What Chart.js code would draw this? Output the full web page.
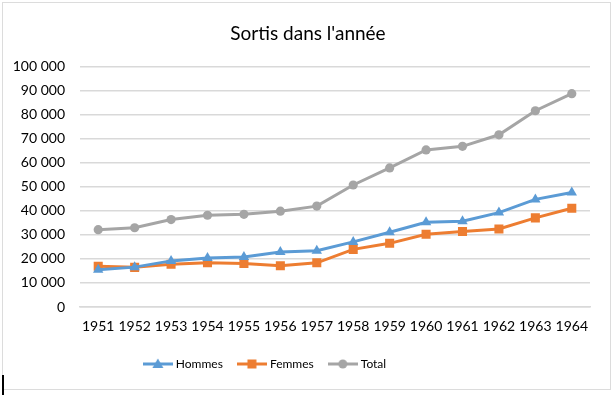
<!DOCTYPE html>
<html>
<head>
<meta charset="utf-8">
<script src="https://cdn.jsdelivr.net/npm/chart.js@4/dist/chart.umd.min.js"></script>
<style>
  html, body { margin: 0; padding: 0; background: #fff; }
  #wrap { position: relative; width: 616px; height: 395px; }
  #frame { position: absolute; left: 2px; top: 2px; width: 609px; height: 388px; border: 1.5px solid #dcdcdc; box-sizing: border-box; }
  #cursor { position: absolute; left: 2px; top: 375px; width: 1.5px; height: 20px; background: #000; }
  canvas { position: absolute; left: 0; top: 0; }
</style>
</head>
<body>
<div id="wrap">
  <div id="frame"></div>
  <canvas id="c" width="616" height="395"></canvas>
  <div id="cursor"></div>
</div>
<script>
const years = ["1951","1952","1953","1954","1955","1956","1957","1958","1959","1960","1961","1962","1963","1964"];
const hommes = [15500, 16600, 19200, 20400, 20800, 22900, 23400, 27100, 31100, 35300, 35700, 39300, 44800, 47700];
const femmes = [17000, 16500, 17800, 18400, 18100, 17200, 18400, 24000, 26500, 30300, 31400, 32500, 37100, 41100];
const total  = [32200, 33000, 36400, 38200, 38600, 39900, 42000, 50800, 57900, 65400, 66900, 71700, 81700, 88800];
const yTicks = [0, 10000, 20000, 30000, 40000, 50000, 60000, 70000, 80000, 90000, 100000];

const FONT = "Lato, 'Open Sans', sans-serif";

function legendIcon(color, shape) {
  const cv = document.createElement('canvas');
  cv.width = 30; cv.height = 12;
  const g = cv.getContext('2d');
  g.strokeStyle = color; g.lineWidth = 3; g.lineCap = 'butt';
  g.beginPath(); g.moveTo(0, 6); g.lineTo(30, 6); g.stroke();
  g.fillStyle = color;
  g.beginPath();
  if (shape === 'triangle') { g.moveTo(15, 0.5); g.lineTo(20.5, 10); g.lineTo(9.5, 10); g.closePath(); }
  else if (shape === 'rect') { g.rect(10.5, 1.5, 9, 9); }
  else { g.arc(15, 6, 4.5, 0, Math.PI * 2); }
  g.fill();
  return cv;
}

const fmt = v => String(v).replace(/\B(?=(\d{3})+(?!\d))/g, ' ');

const series = [
  { label: 'Hommes', data: hommes, color: '#5B9BD5', shape: 'triangle', r: 6 },
  { label: 'Femmes', data: femmes, color: '#ED7D31', shape: 'rect', r: 6.4 },
  { label: 'Total', data: total, color: '#A5A5A5', shape: 'circle', r: 4.6 }
];

// Excel centres the title on the whole frame and puts the legend left of centre
const boxShift = {
  id: 'boxShift',
  afterLayout(chart) {
    if (chart.titleBlock) { chart.titleBlock.left += 9; chart.titleBlock.right += 9; }
    if (chart.legend) { chart.legend.left -= 33; chart.legend.right -= 33; }
  }
};

new Chart(document.getElementById('c'), {
  type: 'line',
  plugins: [boxShift],
  data: {
    labels: years,
    datasets: series.map(s => ({
      label: s.label,
      data: s.data,
      borderColor: s.color,
      backgroundColor: s.color,
      borderWidth: 3,
      pointStyle: s.shape,
      pointRadius: s.r,
      pointBorderWidth: 0,
      pointBackgroundColor: s.color,
      tension: 0,
      legendIcon: legendIcon(s.color, s.shape)
    }))
  },
  options: {
    responsive: false,
    animation: false,
    devicePixelRatio: 1,
    layout: { padding: { left: 8, right: 26, top: 22, bottom: 15 } },
    plugins: {
      title: {
        display: true,
        text: "Sortis dans l'année",
        color: '#000',
        font: { family: FONT, size: 19, weight: 'normal' },
        padding: { top: 0, bottom: 22 }
      },
      legend: {
        position: 'bottom',
        labels: {
          usePointStyle: true,
          pointStyleWidth: 24,
          boxHeight: 12,
          padding: 17,
          color: '#000',
          font: { family: FONT, size: 12 },
          generateLabels: (chart) => chart.data.datasets.map((d, i) => ({
            text: d.label,
            pointStyle: d.legendIcon,
            fillStyle: d.borderColor,
            strokeStyle: d.borderColor,
            lineWidth: 0,
            fontColor: '#000',
            datasetIndex: i,
            hidden: false
          }))
        }
      },
      tooltip: { enabled: false }
    },
    scales: {
      x: {
        offset: true,
        afterFit: (scale) => { scale.height = 34; },
        grid: { display: false, drawTicks: false },
        border: { display: true, color: '#d9d9d9', width: 1.5 },
        ticks: { color: '#000', font: { family: FONT, size: 14 }, padding: 11, maxRotation: 0, autoSkip: false }
      },
      y: {
        min: 0, max: 100000,
        afterBuildTicks: (scale) => { scale.ticks = yTicks.map(v => ({ value: v })); },
        afterFit: (scale) => { scale.width = 72; },
        grid: { color: '#d9d9d9', lineWidth: 1.5, drawTicks: false },
        border: { display: false },
        ticks: { color: '#000', font: { family: FONT, size: 14 }, padding: 15, callback: v => fmt(v) }
      }
    }
  }
});
</script>
</body>
</html>
